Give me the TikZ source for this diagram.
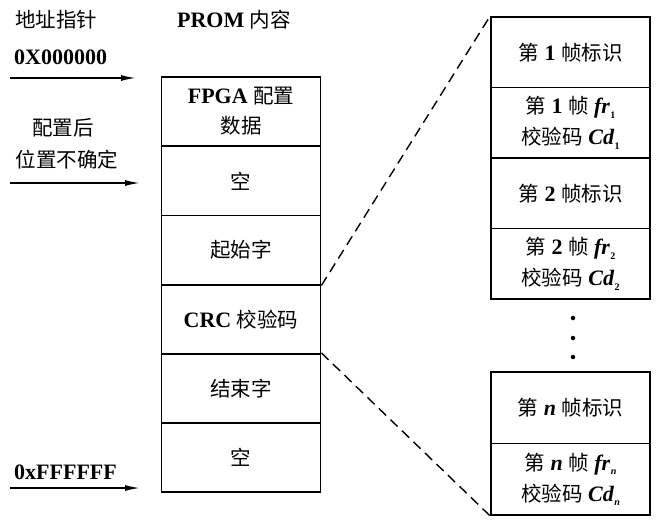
\documentclass[tikz,border=0pt]{standalone}
\usepackage{fontspec}
\setmainfont{Liberation Serif}
\newfontfamily\cjk{Noto Sans CJK SC}
\usetikzlibrary{arrows.meta}
\newcommand\zh[1]{{\cjk\mdseries\fontsize{20.5}{30}\selectfont #1}}
\newcommand\sbx[1]{\kern0.5pt\raisebox{-4.5pt}{\fontsize{10}{10}\selectfont\bfseries #1}}
\newcommand\bi[1]{{\bfseries\itshape #1}}
\begin{document}
\begin{tikzpicture}[x=1pt,y=-1pt,
  cell/.style={draw,line width=1.8pt,minimum width=159pt,minimum height=69.2pt,inner sep=0pt,align=center,font=\fontsize{22}{30}\selectfont\bfseries},
  rcell/.style={draw,line width=1.8pt,minimum width=159pt,minimum height=70.5pt,inner sep=0pt,align=center,font=\fontsize{22}{31}\selectfont\bfseries},
  ncell/.style={rcell,minimum height=71.5pt},
  lab/.style={inner sep=0pt,anchor=base west,font=\fontsize{22}{30}\selectfont\bfseries},
  arr/.style={line width=1.6pt,-{Latex[length=15pt,width=6pt]}},
  zoomline/.style={line width=1.4pt,dash pattern=on 10pt off 6pt},
  dotm/.style={circle,fill,inner sep=0pt,minimum size=4.5pt}]
\useasboundingbox (0,0) rectangle (666,531);
% left column
\node[cell] (r1) at (241,111.6) {FPGA \zh{配置}\\\zh{数据}};
\node[cell] (r2) at (241,180.8) {\zh{空}};
\node[cell] (r3) at (241,250.0) {\zh{起始字}};
\node[cell] (r4) at (241,319.2) {CRC \zh{校验码}};
\node[cell] (r5) at (241,388.4) {\zh{结束字}};
\node[cell] (r6) at (241,457.6) {\zh{空}};
% header labels
\node[lab] (h1) at (15,27) {\zh{地址指针}};
\node[lab,anchor=base] (h2) at (234,27) {PROM \zh{内容}};
\node[lab] (a1t) at (14,64) {0X000000};
\node[lab,anchor=base] (a2t) at (63,135) {\zh{配置后}};
\node[lab,anchor=base] (a2u) at (67,167) {\zh{位置不确定}};
\node[lab] (a3t) at (14,479) {0xFFFFFF};
% arrows
\coordinate (s1) at (10,78); \coordinate (e1) at (136,78);
\coordinate (s2) at (10,183); \coordinate (e2) at (140,183);
\coordinate (s3) at (10,488); \coordinate (e3) at (140,488);
\draw[arr] (s1) -- (e1);
\draw[arr] (s2) -- (e2);
\draw[arr] (s3) -- (e3);
% right column
\node[rcell] (b1) at (570.5,52.25) {\zh{第} 1 \zh{帧标识}};
\node[rcell] (b2) at (570.5,122.75) {\zh{第} 1 \zh{帧} \bi{fr}\sbx{1}\\\zh{校验码} \bi{Cd}\sbx{1}};
\node[rcell] (b3) at (570.5,193.25) {\zh{第} 2 \zh{帧标识}};
\node[rcell] (b4) at (570.5,263.75) {\zh{第} 2 \zh{帧} \bi{fr}\sbx{2}\\\zh{校验码} \bi{Cd}\sbx{2}};
\node[ncell] (bn1) at (570.5,407.75) {\zh{第} \bi{n} \zh{帧标识}};
\node[ncell] (bn2) at (570.5,479.25) {\zh{第} \bi{n} \zh{帧} \bi{fr}\sbx{\itshape n}\\\zh{校验码} \bi{Cd}\sbx{\itshape n}};
% dots
\node[dotm] (d1) at (573,318) {};
\node[dotm] (d2) at (573,338) {};
\node[dotm] (d3) at (573,357) {};
% zoom lines
\draw[zoomline] (r3.south east) -- (b1.north west);
\draw[zoomline] (r5.north east) -- (bn2.south west);
\end{tikzpicture}
\end{document}
